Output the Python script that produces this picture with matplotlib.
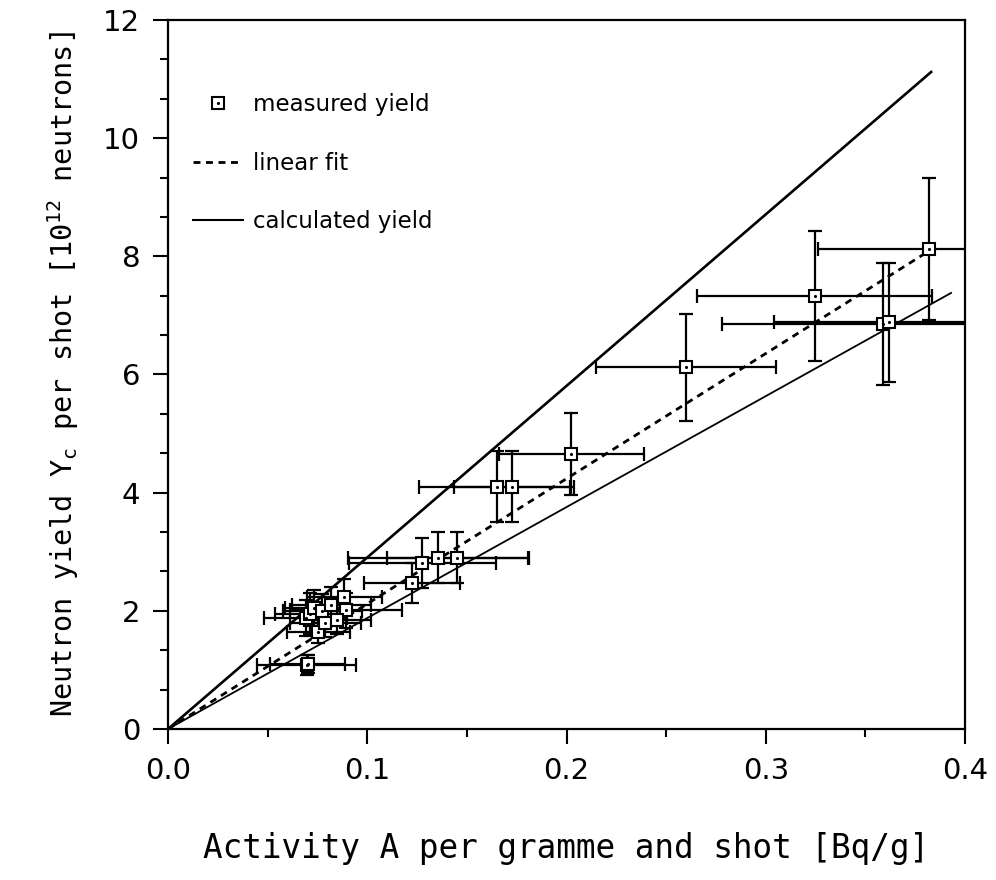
import matplotlib.pyplot as plt
from matplotlib.lines import Line2D
from matplotlib.ticker import MultipleLocator

plt.rcParams['mathtext.fontset'] = 'custom'
plt.rcParams['mathtext.rm'] = 'DejaVu Sans Mono'
plt.rcParams['mathtext.it'] = 'DejaVu Sans Mono'

# measured yield: activity [Bq/g], yield [1e12 n], and their errors
act = [0.382, 0.3245, 0.359, 0.362, 0.260, 0.2024, 0.165, 0.1725,
       0.1452, 0.1357, 0.1277, 0.1223, 0.0893, 0.0885,
       0.0690, 0.0715, 0.0735, 0.0755, 0.0775, 0.0790, 0.0820, 0.0850,
       0.0695, 0.0700]
yld = [8.12, 7.33, 6.85, 6.88, 6.12, 4.65, 4.10, 4.10,
       2.90, 2.90, 2.81, 2.47, 2.01, 2.24,
       1.88, 1.95, 2.05, 1.65, 2.00, 1.80, 2.10, 1.85,
       1.08, 1.10]
act_err = [0.056, 0.059, 0.081, 0.058, 0.045, 0.0365, 0.039, 0.029,
           0.0355, 0.0455, 0.037, 0.024, 0.028, 0.019,
           0.021, 0.018, 0.015, 0.016, 0.020, 0.018, 0.020, 0.017,
           0.025, 0.019]
yld_err = [1.2, 1.1, 1.03, 1.0, 0.91, 0.69, 0.60, 0.60,
           0.43, 0.43, 0.42, 0.34, 0.30, 0.30,
           0.30, 0.35, 0.30, 0.20, 0.28, 0.25, 0.30, 0.25,
           0.17, 0.15]

# lines through the origin
fit_x = [0.0, 0.380]
fit_y = [0.0, 8.05]
calc_hi_x = [0.0, 0.383]
calc_hi_y = [0.0, 11.12]
calc_lo_x = [0.0, 0.393]
calc_lo_y = [0.0, 7.38]

fig = plt.figure(figsize=(9.96, 8.8), dpi=100)
ax = fig.add_axes([0.1687, 0.1716, 0.8002, 0.8057])

ax.plot(calc_hi_x, calc_hi_y, color='black', lw=1.9, zorder=2)
ax.plot(calc_lo_x, calc_lo_y, color='black', lw=1.3, zorder=2)
ax.plot(fit_x, fit_y, color='black', lw=2.0, ls=(0, (2.5, 2.0)), zorder=2)

ax.errorbar(act, yld, xerr=act_err, yerr=yld_err, fmt='none', ecolor='black',
            elinewidth=1.6, capsize=5, capthick=1.6, zorder=2)
ax.plot(act, yld, 's', ms=8, mfc='white', mec='black', mew=1.5, zorder=3)
ax.plot(act, yld, '.', ms=2.5, color='black', zorder=4)

ax.set_xlim(0, 0.4)
ax.set_ylim(0, 12)
ax.xaxis.set_major_locator(MultipleLocator(0.1))
ax.xaxis.set_minor_locator(MultipleLocator(0.05))
ax.yaxis.set_major_locator(MultipleLocator(2))
ax.yaxis.set_minor_locator(MultipleLocator(2 / 3))
ax.xaxis.set_major_formatter(plt.FormatStrFormatter('%.1f'))
ax.tick_params(which='major', direction='out', length=11, width=1.5,
               labelsize=21, pad=9)
ax.tick_params(which='minor', direction='out', length=6, width=1.5)
for s in ax.spines.values():
    s.set_linewidth(1.6)

ax.set_xlabel('Activity A per gramme and shot [Bq/g]', family='DejaVu Sans Mono',
              fontsize=23.5, labelpad=34)
ax.set_ylabel(r'Neutron yield Y$_{c}$ per shot [10$^{12}$ neutrons]',
              family='DejaVu Sans Mono', fontsize=20.5, labelpad=16)

sq = Line2D([], [], ls='none', marker='s', ms=8, mfc='white', mec='black', mew=1.5)
dot = Line2D([], [], ls='none', marker='.', ms=2.5, color='black')
dash = Line2D([], [], color='black', lw=2.0, ls=(0, (2.5, 2.0)))
solid = Line2D([], [], color='black', lw=1.5)
ax.legend([(sq, dot), dash, solid], ['measured yield', 'linear fit', 'calculated yield'],
          loc='upper left', bbox_to_anchor=(0.031, 0.897), frameon=False,
          fontsize=16.5, handlelength=2.2, handletextpad=0.45, labelspacing=1.55,
          borderpad=0, borderaxespad=0)

fig.savefig('out.png', dpi=100)
